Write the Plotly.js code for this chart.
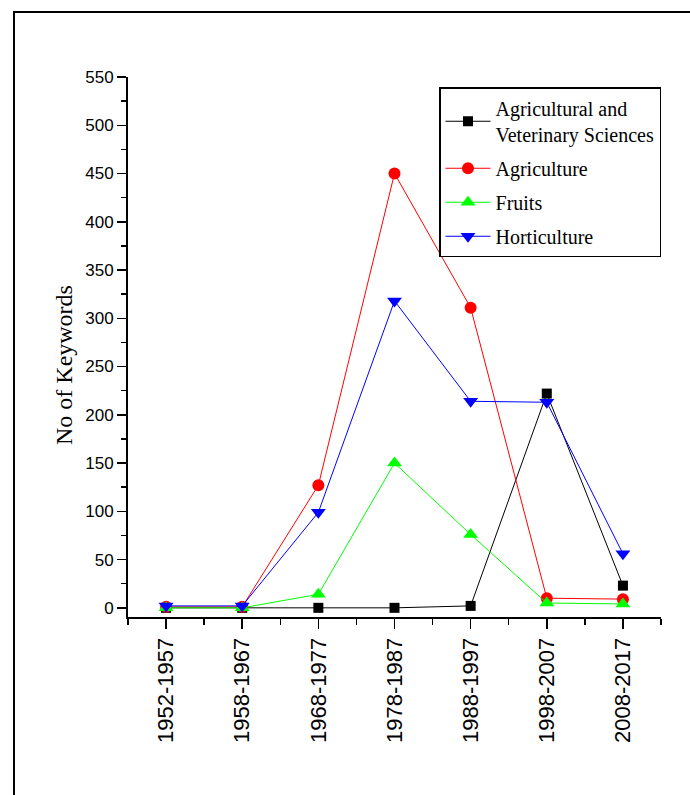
<!DOCTYPE html>
<html>
<head>
<meta charset="utf-8">
<script src="https://cdn.plot.ly/plotly-3.0.1.min.js"></script>
<style>
  html, body { margin: 0; padding: 0; background: #fff; }
  #wrap { position: relative; width: 690px; height: 795px; overflow: hidden; }
  #frame { position: absolute; left: 13px; top: 11px; width: 700px; height: 800px;
           border-left: 2px solid #000; border-top: 2px solid #000; pointer-events: none; z-index: 2; }
  #chart { position: absolute; left: 0; top: 0; width: 690px; height: 795px; }
</style>
</head>
<body>
<div id="wrap">
  <div id="chart"></div>
  <div id="frame"></div>
</div>
<script>
const categories = ['1952-1957', '1958-1967', '1968-1977', '1978-1987', '1988-1997', '1998-2007', '2008-2017'];
const seriesNames = ['Agricultural and<br>Veterinary Sciences', 'Agriculture', 'Fruits', 'Horticulture'];
const agriVet      = [0, 0, 0, 0, 2, 222, 23];
const agriculture  = [1, 1, 127, 450, 311, 10, 9];
const fruits       = [0, 0, 14, 150, 76, 5, 4];
const horticulture = [2, 2, 99, 318, 214, 213, 56];
const yTitle = 'No of Keywords';

const xIdx = categories.map((_, i) => i);
const minorX = [];
for (let i = -1; i < categories.length; i++) minorX.push(i + 0.5);

const styles = [
  {color: '#000000', symbol: 'square', size: 10},
  {color: '#ff0000', symbol: 'circle', size: 12},
  {color: '#00ff00', symbol: 'triangle-up', size: 13},
  {color: '#0000ff', symbol: 'triangle-down', size: 13}
];
const values = [agriVet, agriculture, fruits, horticulture];

const traces = values.map((v, k) => ({
  x: xIdx,
  y: v,
  name: seriesNames[k],
  legendgroup: 'g' + k,
  type: 'scatter',
  mode: 'lines+markers',
  line: {color: styles[k].color, width: 1},
  marker: {color: styles[k].color, symbol: styles[k].symbol, size: styles[k].size, line: {width: 0}}
}));

const layout = {
  width: 690,
  height: 795,
  margin: {l: 128, r: 29, t: 77, b: 178},
  paper_bgcolor: 'rgba(0,0,0,0)',
  plot_bgcolor: 'rgba(0,0,0,0)',
  showlegend: true,
  xaxis: {
    range: [-0.5, 6.5],
    tickmode: 'array',
    tickvals: xIdx,
    ticktext: categories,
    tickangle: -90,
    ticks: 'outside',
    ticklen: 10,
    tickwidth: 1.5,
    tickcolor: '#000',
    showline: true,
    linewidth: 2,
    linecolor: '#000',
    showgrid: false,
    zeroline: false,
    tickfont: {family: 'Liberation Sans, Arial, sans-serif', size: 22, color: '#000'},
    minor: {tickmode: 'array', tickvals: minorX, ticks: 'outside', ticklen: 6, tickwidth: 1.5, tickcolor: '#000', showgrid: false}
  },
  yaxis: {
    range: [-9.5, 550],
    tickmode: 'linear',
    tick0: 0,
    dtick: 50,
    ticks: 'outside',
    ticklen: 9,
    tickwidth: 1.5,
    tickcolor: '#000',
    showline: true,
    linewidth: 2,
    linecolor: '#000',
    showgrid: false,
    zeroline: false,
    tickfont: {family: 'Liberation Sans, Arial, sans-serif', size: 17, color: '#000'},
    minor: {tick0: 0, dtick: 25, ticks: 'outside', ticklen: 5, tickwidth: 1.5, tickcolor: '#000', showgrid: false}
  },
  legend: {
    x: 0.5835, y: 0.981, xanchor: 'left', yanchor: 'top',
    bgcolor: '#fff',
    bordercolor: '#000',
    borderwidth: 1.5,
    itemwidth: 45,
    tracegroupgap: 5,
    font: {family: 'Liberation Serif, Times New Roman, serif', size: 20, color: '#000'}
  },
  annotations: [{
    text: yTitle,
    xref: 'paper', yref: 'paper',
    x: -0.12, y: 0.4667,
    xanchor: 'center', yanchor: 'middle',
    textangle: -90,
    showarrow: false,
    font: {family: 'Liberation Serif, Times New Roman, serif', size: 24, color: '#000'}
  }]
};

Plotly.newPlot('chart', traces, layout, {displayModeBar: false, staticPlot: true});
</script>
</body>
</html>
